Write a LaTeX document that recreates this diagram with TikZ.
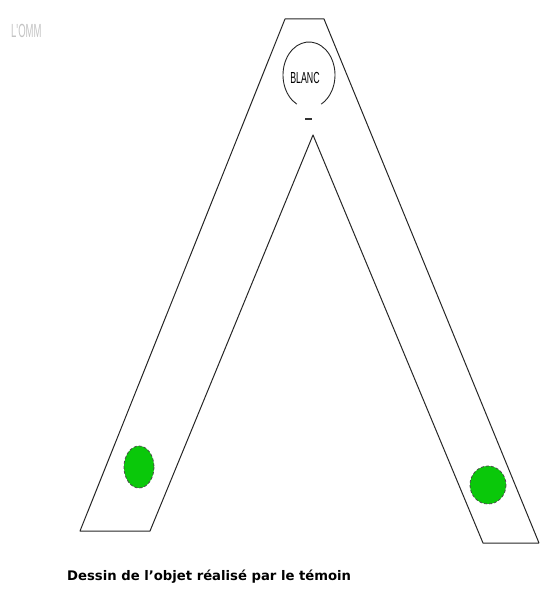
\documentclass[tikz,border=0pt]{standalone}
\usepackage{fontspec}
\setmainfont{DejaVu Sans}
\newfontfamily\narrowfont{Liberation Sans}
\definecolor{dotgreen}{RGB}{10,200,10}
\definecolor{wmgray}{RGB}{195,195,195}
\begin{document}
\begin{tikzpicture}[x=1pt,y=-1pt,
  outline/.style={line width=1pt,draw=black!85},
  dot/.style={fill=dotgreen,draw=black!70,line width=0.8pt,densely dashed}]
\useasboundingbox (0,0) rectangle (539,596);
% key points
\coordinate (tl) at (285,19);
\coordinate (tr) at (324,19);
\coordinate (bl1) at (80,531);
\coordinate (bl2) at (150,531);
\coordinate (apex) at (313,135);
\coordinate (br1) at (483,543);
\coordinate (br2) at (539,543);
% the shape
\draw[outline,line join=round] (br2) -- (tr) -- (tl) -- (bl1) -- (bl2) -- (apex) -- (br1) -- (br2);
% ellipse open at the bottom
\draw[line width=0.9pt,draw=black!85] (309,75) ++(118:26 and 33) arc[start angle=118,end angle=422,x radius=26,y radius=33];
\node[inner sep=0pt] (blanc) at (305,78) {\narrowfont\fontsize{16}{16}\selectfont\scalebox{0.55}[1]{BLANC}};
\draw[line width=1.2pt,draw=black!80] (305,119) -- (312,119);
% green dots
\draw[dot] (139,467) ellipse[x radius=15,y radius=21];
\draw[dot] (488,485) ellipse[x radius=18,y radius=19];
% watermark
\node[inner sep=0pt,text=wmgray,anchor=west] (wm) at (11,31) {\narrowfont\fontsize{19}{19}\selectfont\scalebox{0.5}[1]{L'OMM}};
% caption
\node[inner sep=0pt,anchor=west] (cap) at (67,577) {\fontsize{13.2}{15}\selectfont\bfseries Dessin de l'objet réalisé par le témoin};
\end{tikzpicture}
\end{document}
